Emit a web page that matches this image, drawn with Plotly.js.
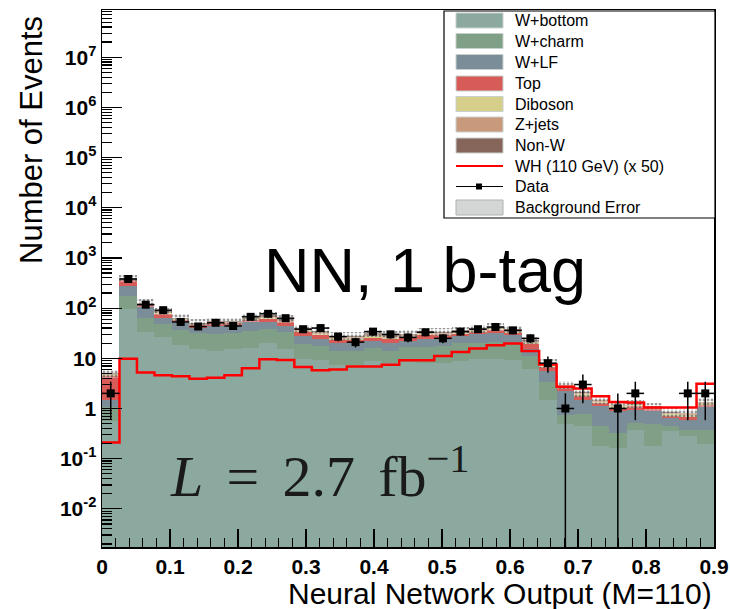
<!DOCTYPE html>
<html><head><meta charset="utf-8">
<script src="https://cdn.plot.ly/plotly-3.0.1.min.js"></script>
<style>html,body{margin:0;padding:0;background:#fff}#chart{width:730px;height:609px}</style>
</head><body><div id="chart"></div>
<script>
// ---- data (35 bins from 0 to 0.9) ----
const xMin = 0, xMax = 0.9, nBins = 35;
const wBottom = [0.56,95,34,26,18,15,14,15,16,20.6,15.6,9.8,9.1,7.2,7.2,8.7,8,8.3,8.2,8.2,8.8,9.5,9.5,9.2,6,1.5,0.5,0.44,0.18,0.16,0.38,0.18,0.35,0.28,0.2];
const wCharm  = [0.49,82,31,23,18,17.6,16,16.6,19,18.4,17.4,9.2,8.5,6.8,6.8,7.7,6,8.3,8.8,9.3,11.2,11.1,12,11.4,5,1.8,0.25,0.32,0.26,0.17,0.14,0.3,0.09,0.1,0.18];
const wLF     = [0.45,103,38,16,16,8.4,14.5,13,17,14,11,9,7.1,6.6,6,5.8,6.6,5.2,7.7,7.2,8,9.4,11.1,8.4,4.6,2.3,1.45,0.74,0.66,0.55,0.43,0.4,0.21,0.2,0.7];
const topQ    = [2.9,85,17,13,6,4.7,5.5,5.4,6,9,8,5,4.3,2.6,3,3.7,3.4,3.2,4.3,3.8,3,3.6,3.5,3.6,3.4,1.1,0.4,0.26,0.16,0.15,0.15,0.15,0.07,0.1,0.12];
const diboson = [0.15,5,2,2,1.5,1.2,1.3,1.3,1.5,2,1.8,1.5,1.4,1.2,1.2,1.3,1.3,1.3,1.4,1.3,1.3,1.4,1.6,1.3,1,0.4,0.15,0.15,0.1,0.08,0.08,0.03,0.06,0.06,0.06];
const zJets   = [0.25,8,3,3,2.5,2,2.2,2,2.5,4,3.5,3,2.6,2.3,2.3,2.5,2.4,2.4,2.3,2.2,2.2,2.4,2.6,2.2,1.6,0.5,0.15,0.15,0.1,0.07,0.06,0.03,0.05,0.06,0.06];
const nonW    = [0.2,12,4,3,2,1.8,2,2,2.5,4,3.5,2.5,2.2,1.6,1.8,2,1.9,2,1.8,1.6,1.8,2,2.4,1.8,1.4,0.4,0.1,0.05,0.04,0.02,0.02,0.02,0.02,0.02,0.02];
const bkgErr  = [0.9,65,22,14,11,9,9.5,9.5,11,12,10.5,7,6,5,5,5.5,5,5.3,6,5.8,6.3,6.8,7.4,6.6,4,1.5,0.55,0.4,0.28,0.22,0.23,0.2,0.16,0.15,0.25];
const signalWH= [0.21,9.8,5.2,4.6,4.4,3.9,4.1,4.6,6.3,9.6,9.2,6.7,5.8,6.0,6.9,6.9,7.4,9.1,9.1,11.1,13.4,15.6,18.2,19.7,14,7.5,2.7,2.5,1.76,1.34,1.32,1.05,1.05,1.05,3.1];
const dataN   = [2,380,117,91,53,43,51,44,67,77,63,38,40,27,21,34,30,26,33,25,34,38,42,36,25,8,1,3,0,1,2,0,0,2,2];
const xTickVals = [0,0.1,0.2,0.3,0.4,0.5,0.6,0.7,0.8,0.9];
const xTickText = ['0','0.1','0.2','0.3','0.4','0.5','0.6','0.7','0.8','0.9'];
const yTickVals = [0.01,0.1,1,10,100,1e3,1e4,1e5,1e6,1e7];
const yTickText = ['10<sup>-2</sup>','10<sup>-1</sup>','1','10','10<sup>2</sup>','10<sup>3</sup>','10<sup>4</sup>','10<sup>5</sup>','10<sup>6</sup>','10<sup>7</sup>'];
const names  = ['W+bottom','W+charm','W+LF','Top','Diboson','Z+jets','Non-W'];
const colors = ['#8ba99f','#7f9f86','#7a8d98','#d75b56','#d5cf8a','#c89a7b','#86665a'];

// ---- derived ----
const binW = (xMax - xMin) / nBins;
const centers = dataN.map((_, i) => xMin + (i + 0.5) * binW);
const edges = signalWH.map((_, i) => xMin + i * binW).concat([xMax]);
const layers = [wBottom, wCharm, wLF, topQ, diboson, zJets, nonW];
const cum = [];
layers.forEach((arr, k) => cum.push(arr.map((v, i) => v + (k ? cum[k-1][i] : 0))));
const total = cum[cum.length - 1];

const traces = [];
for (let k = layers.length - 1; k >= 0; k--) {
  traces.push({type:'bar', x:centers, y:cum[k], width:binW, name:names[k], showlegend:false,
    marker:{color:colors[k], opacity:1, line:{width:0}}, hoverinfo:'skip'});
}
traces.push({type:'bar', x:centers, y:bkgErr.map(e => 2*e), base:total.map((t,i)=>t-bkgErr[i]), width:binW,
  showlegend:false, hoverinfo:'skip',
  marker:{color:'rgba(255,255,255,0.25)', line:{width:0},
    pattern:{shape:'.', fgcolor:'#333', bgcolor:'rgba(255,255,255,0.35)', size:4, solidity:0.4, fillmode:'overlay'}}});
traces.push({type:'scatter', mode:'lines', x:edges, y:signalWH.concat([signalWH[signalWH.length-1]]),
  line:{shape:'hv', color:'#ff0000', width:2.5}, showlegend:false, hoverinfo:'skip'});
const dIdx = dataN.map((v,i)=>i).filter(i => dataN[i] > 0);
traces.push({type:'scatter', mode:'markers', x:dIdx.map(i=>centers[i]), y:dIdx.map(i=>dataN[i]),
  marker:{symbol:'square', size:8, color:'#000'}, showlegend:false, hoverinfo:'skip',
  error_y:{type:'data', symmetric:false, array:dIdx.map(i=>Math.sqrt(dataN[i])),
    arrayminus:dIdx.map(i=>Math.min(Math.sqrt(dataN[i]), dataN[i]*0.9999)), color:'#000', thickness:1.5, width:0},
  error_x:{type:'constant', value:binW/2, color:'#000', thickness:1.5, width:0}});

// ---- legend (custom, ROOT style) ----
const L = 102, R = 714, T = 10, B = 547;
const px = x => (x - L) / (R - L), py = y => (B - y) / (B - T);
const shapes = [];
const annotations = [];
shapes.push({type:'rect', xref:'paper', yref:'paper', x0:px(444), x1:px(715), y0:py(218), y1:py(11),
  line:{color:'#000', width:1.2}, fillcolor:'#fff', layer:'above'});
const rowY = [20.5,41,62,83.5,104,124.5,145.5,166,186.5,207.5];
names.forEach((n,k) => {
  shapes.push({type:'rect', xref:'paper', yref:'paper', x0:px(456), x1:px(503), y0:py(rowY[k]+7.5), y1:py(rowY[k]-7.5),
    line:{color:'#c8d0cc', width:1}, fillcolor:colors[k], layer:'above'});
});
shapes.push({type:'line', xref:'paper', yref:'paper', x0:px(456), x1:px(503), y0:py(rowY[7]), y1:py(rowY[7]), line:{color:'#ff0000', width:2}, layer:'above'});
shapes.push({type:'line', xref:'paper', yref:'paper', x0:px(456), x1:px(503), y0:py(rowY[8]), y1:py(rowY[8]), line:{color:'#000', width:1.2}, layer:'above'});
shapes.push({type:'rect', xref:'paper', yref:'paper', x0:px(476), x1:px(482), y0:py(rowY[8]+3), y1:py(rowY[8]-3), line:{width:0}, fillcolor:'#000', layer:'above'});
shapes.push({type:'rect', xref:'paper', yref:'paper', x0:px(456), x1:px(503), y0:py(rowY[9]+7.5), y1:py(rowY[9]-7.5),
  line:{color:'#aab4b0', width:1}, fillcolor:'#d3d6d4', layer:'above'});
const legText = names.concat(['WH (110 GeV) (x 50)','Data','Background Error']);
legText.forEach((t,k) => annotations.push({xref:'paper', yref:'paper', x:px(513), y:py(rowY[k]), xanchor:'left', yanchor:'middle',
  text:t, showarrow:false, font:{family:'Liberation Sans, Arial, sans-serif', size:16, color:'#000'}}));

// ---- texts ----
annotations.push({xref:'paper', yref:'paper', x:px(425), y:py(270), xanchor:'center', yanchor:'middle', showarrow:false,
  text:'NN, 1 b-tag', font:{family:'Liberation Sans, Arial, sans-serif', size:63, color:'#000'}});
annotations.push({xref:'paper', yref:'paper', x:px(168), y:py(472), xanchor:'left', yanchor:'middle', showarrow:false,
  text:'<i>L</i>&#8201;&#8201;=&#8201;&#8201;2.7&#8201;&#8201;fb<sup>&#8722;1</sup>', font:{family:'Liberation Serif, Times New Roman, serif', size:58, color:'#1a1a1a'}});
annotations.push({xref:'paper', yref:'paper', x:1.0, y:py(593), xanchor:'right', yanchor:'middle', showarrow:false,
  text:'Neural Network Output (M=110)', font:{family:'Liberation Sans, Arial, sans-serif', size:30, color:'#000'}});
annotations.push({xref:'paper', yref:'paper', x:px(32), y:py(140), xanchor:'center', yanchor:'middle', textangle:-90, showarrow:false,
  text:'Number of Events', font:{family:'Liberation Sans, Arial, sans-serif', size:31, color:'#000'}});

// minor y ticks
const yMinor = [];
for (let e = -3; e <= 7; e++) for (let m = 2; m <= 9; m++) yMinor.push(m * Math.pow(10, e));

const layout = {
  width:730, height:609, margin:{l:L, r:730-R, t:T, b:609-B},
  paper_bgcolor:'#fff', plot_bgcolor:'#fff', barmode:'overlay', bargap:0, showlegend:false,
  xaxis:{range:[xMin, xMax], tickvals:xTickVals, ticktext:xTickText, ticks:'inside', ticklen:18, tickwidth:1.2, tickcolor:'#000',
    showline:true, linecolor:'#000', linewidth:1.5, mirror:true, showgrid:false, zeroline:false,
    tickfont:{family:'Liberation Sans, Arial, sans-serif', size:21, color:'#000', weight:'bold'},
    minor:{ticks:'inside', ticklen:9, tickwidth:1.2, tickcolor:'#000', dtick:0.02, tick0:0, showgrid:false}},
  yaxis:{type:'log', range:[-2.76, 7.94], tickvals:yTickVals, ticktext:yTickText, ticks:'inside', ticklen:20, tickwidth:1.2, tickcolor:'#000',
    showline:true, linecolor:'#000', linewidth:1.5, mirror:true, showgrid:false, zeroline:false,
    tickfont:{family:'Liberation Sans, Arial, sans-serif', size:21, color:'#000', weight:'bold'},
    minor:{ticks:'inside', ticklen:10, tickwidth:1.2, tickcolor:'#000', tickmode:'array', tickvals:yMinor, showgrid:false}},
  shapes:shapes, annotations:annotations
};
Plotly.newPlot('chart', traces, layout, {staticPlot:true, displayModeBar:false});
</script></body></html>
